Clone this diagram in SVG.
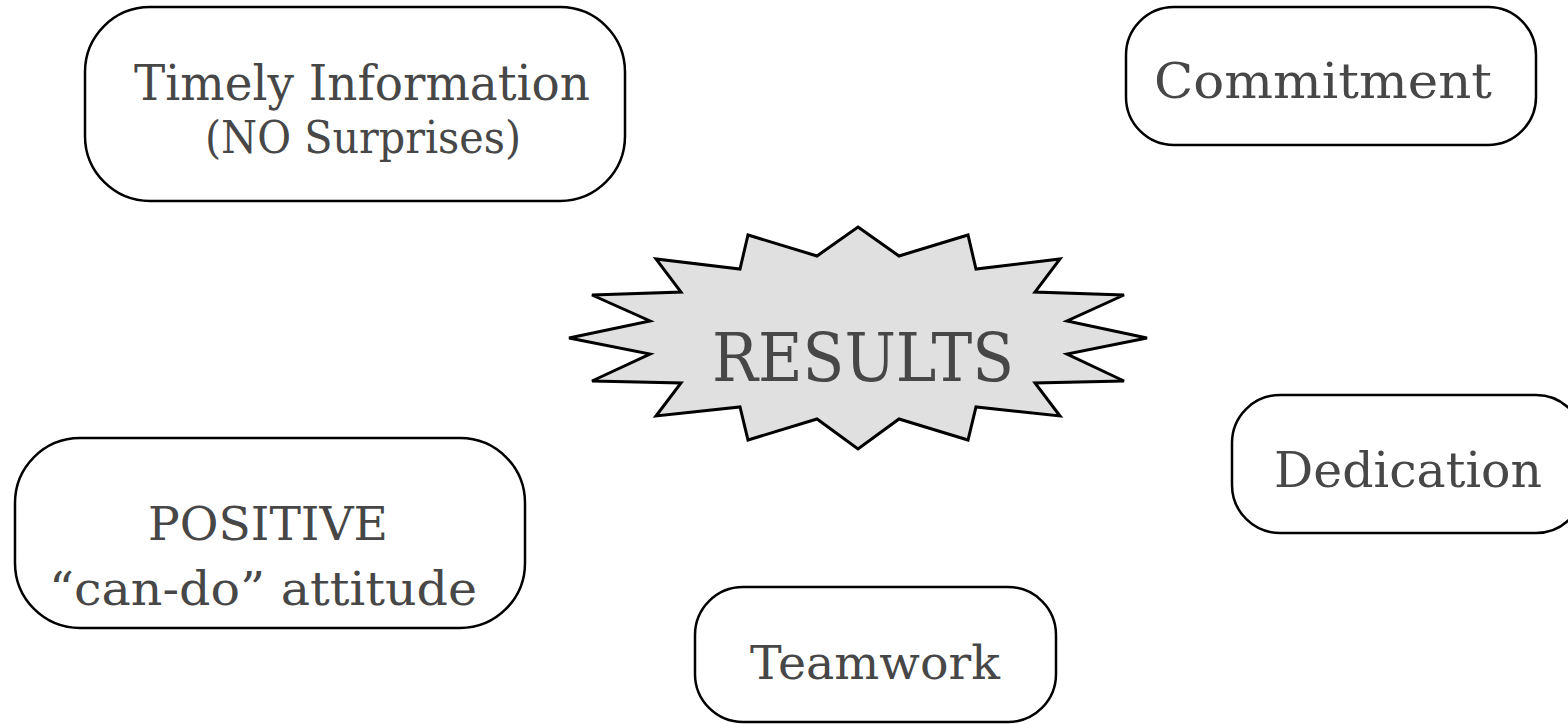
<svg xmlns="http://www.w3.org/2000/svg" width="1568" height="724" viewBox="0 0 1568 724">
<style>
.box{fill:#ffffff;stroke:#000000;stroke-width:2.5}
.star{fill:#e0e0e0;stroke:#000000;stroke-width:3;stroke-linejoin:miter}
.t{font-family:"DejaVu Serif","Liberation Serif",serif;fill:#474747;text-anchor:middle}
</style>
<rect width="1568" height="724" fill="#ffffff"/>
<g id="connectors"></g>
<g id="results">
<polygon class="star" points="858,227 899,256 968,235 976,269 1060,259 1035,292 1124,295 1067,321 1147,338 1067,354 1124,381 1035,383 1060,416 976,407 968,440 899,419 858,449 817,419 748,440 740,407 656,416 681,383 592,381 650,354 569,338 650,321 592,295 681,292 656,259 740,269 748,235 817,256"/>
<text class="t" x="863" y="381" font-size="68" textLength="302" lengthAdjust="spacingAndGlyphs">RESULTS</text>
</g>
<g id="timely">
<rect class="box" x="85" y="7" width="540" height="194" rx="65" ry="65"/>
<text class="t" x="362" y="100" font-size="48" textLength="456" lengthAdjust="spacingAndGlyphs">Timely Information</text>
<text class="t" x="363" y="153" font-size="44" textLength="316" lengthAdjust="spacingAndGlyphs">(NO Surprises)</text>
</g>
<g id="commitment">
<rect class="box" x="1126" y="7" width="410" height="138" rx="48" ry="48"/>
<text class="t" x="1323" y="98" font-size="48" textLength="338" lengthAdjust="spacingAndGlyphs">Commitment</text>
</g>
<g id="dedication">
<rect class="box" x="1232" y="395" width="352" height="138" rx="48" ry="48"/>
<text class="t" x="1408" y="487" font-size="48" textLength="268" lengthAdjust="spacingAndGlyphs">Dedication</text>
</g>
<g id="positive">
<rect class="box" x="15" y="438" width="510" height="190" rx="65" ry="65"/>
<text class="t" x="268" y="540" font-size="46" textLength="240" lengthAdjust="spacingAndGlyphs">POSITIVE</text>
<text class="t" x="263" y="605" font-size="46" textLength="428" lengthAdjust="spacingAndGlyphs">“can-do” attitude</text>
</g>
<g id="teamwork">
<rect class="box" x="695" y="587" width="361" height="135" rx="48" ry="48"/>
<text class="t" x="875" y="679" font-size="46" textLength="250" lengthAdjust="spacingAndGlyphs">Teamwork</text>
</g>
</svg>
